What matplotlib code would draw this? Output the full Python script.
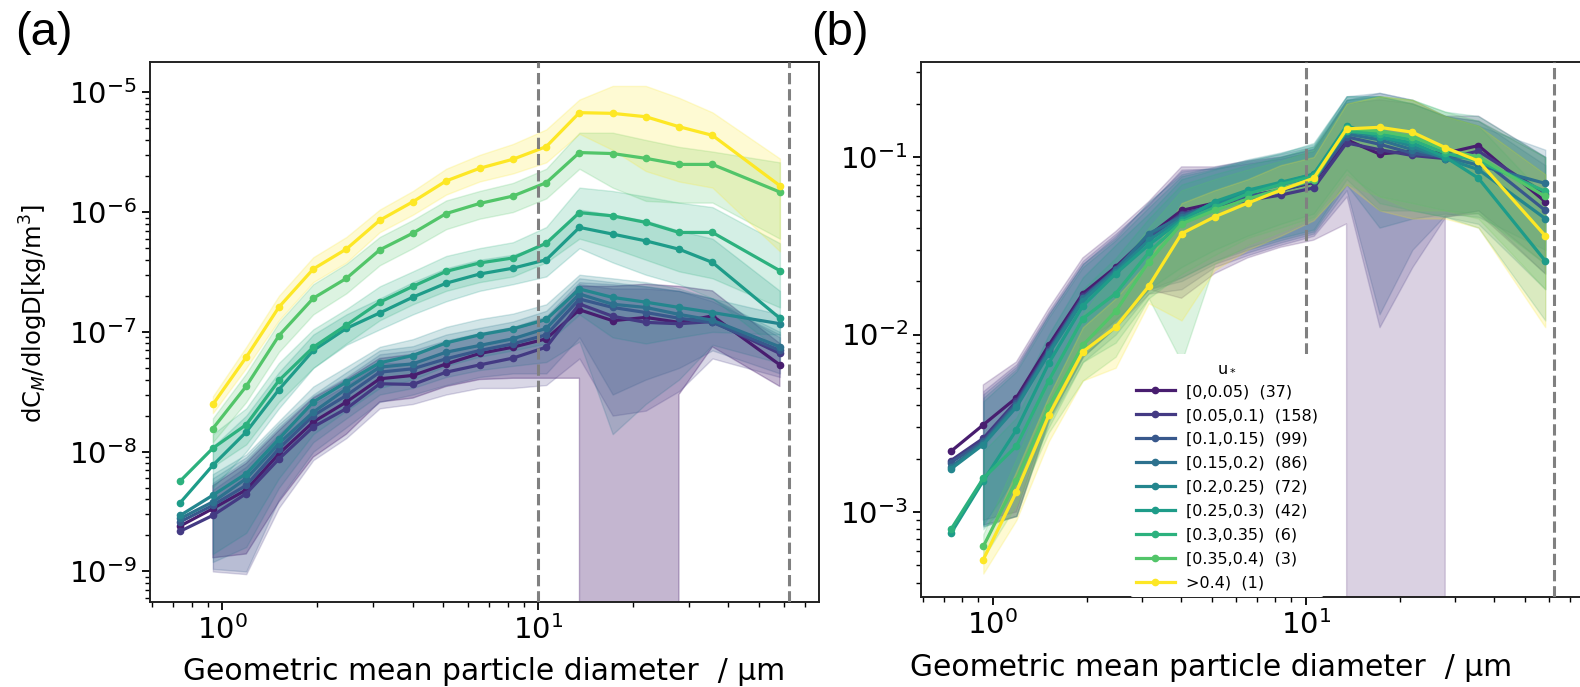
import numpy as np
import matplotlib
matplotlib.use("Agg")
import matplotlib.pyplot as plt
from matplotlib.ticker import NullFormatter

nan = np.nan

# particle diameter bins (geometric mean, um)
diam = [0.736, 0.933, 1.19, 1.51, 1.94, 2.47, 3.15, 4.01, 5.11, 6.52, 8.31, 10.6,
        13.5, 17.2, 21.9, 27.9, 35.6, 58.2]

ustar_labels = ['[0,0.05)  (37)', '[0.05,0.1)  (158)', '[0.1,0.15)  (99)', '[0.15,0.2)  (86)',
                '[0.2,0.25)  (72)', '[0.25,0.3)  (42)', '[0.3,0.35)  (6)', '[0.35,0.4)  (3)',
                '>0.4)  (1)']
cmap_pos = [0.08, 0.17, 0.27, 0.37, 0.46, 0.55, 0.64, 0.73, 1.0]

# ---- panel (a): dC_M/dlogD [kg/m3] ----
a_mean = [
    [2.4e-9, 3.35e-9, 4.8e-9, 9.6e-9, 1.77e-8, 2.6e-8, 4.06e-8, 4.33e-8, 5.4e-8, 6.6e-8, 7.45e-8, 8.75e-8, 1.53e-7, 1.24e-7, 1.32e-7, 1.2e-7, 1.36e-7, 5.3e-8],
    [2.17e-9, 2.94e-9, 4.47e-9, 8.7e-9, 1.61e-8, 2.29e-8, 3.69e-8, 3.64e-8, 4.61e-8, 5.3e-8, 6.04e-8, 7.45e-8, 1.71e-7, 1.35e-7, 1.2e-7, 1.17e-7, 1.22e-7, 6.6e-8],
    [2.6e-9, 3.57e-9, 5.24e-9, 1.06e-8, 2.0e-8, 2.95e-8, 4.61e-8, 4.92e-8, 5.96e-8, 6.99e-8, 7.94e-8, 9.44e-8, 1.88e-7, 1.6e-7, 1.45e-7, 1.3e-7, 1.2e-7, 7.0e-8],
    [2.77e-9, 3.81e-9, 5.96e-9, 1.17e-8, 2.14e-8, 3.35e-8, 5.08e-8, 5.41e-8, 6.77e-8, 7.7e-8, 8.75e-8, 1.07e-7, 2.07e-7, 1.7e-7, 1.6e-7, 1.4e-7, 1.25e-7, 7.5e-8],
    [2.94e-9, 4.33e-9, 6.56e-9, 1.28e-8, 2.6e-8, 3.81e-8, 5.52e-8, 6.35e-8, 8.1e-8, 9.44e-8, 1.06e-7, 1.27e-7, 2.28e-7, 1.94e-7, 1.77e-7, 1.6e-7, 1.45e-7, 1.17e-7],
    [3.76e-9, 7.7e-9, 1.46e-8, 3.3e-8, 7.0e-8, 1.07e-7, 1.44e-7, 1.95e-7, 2.55e-7, 3.04e-7, 3.4e-7, 4.0e-7, 7.45e-7, 6.55e-7, 5.75e-7, 4.9e-7, 3.8e-7, 1.3e-7],
    [5.7e-9, 1.07e-8, 1.68e-8, 3.93e-8, 7.45e-8, 1.14e-7, 1.77e-7, 2.4e-7, 3.2e-7, 3.76e-7, 4.14e-7, 5.5e-7, 9.9e-7, 9.3e-7, 8.2e-7, 6.76e-7, 6.76e-7, 3.24e-7],
    [nan, 1.56e-8, 3.52e-8, 9.3e-8, 1.91e-7, 2.8e-7, 4.84e-7, 6.67e-7, 9.72e-7, 1.18e-6, 1.36e-6, 1.76e-6, 3.14e-6, 3.08e-6, 2.81e-6, 2.5e-6, 2.5e-6, 1.47e-6],
    [nan, 2.48e-8, 6.15e-8, 1.61e-7, 3.35e-7, 4.92e-7, 8.55e-7, 1.22e-6, 1.82e-6, 2.32e-6, 2.76e-6, 3.52e-6, 6.76e-6, 6.67e-6, 6.25e-6, 5.16e-6, 4.37e-6, 1.66e-6],
]
a_hi = [
    [nan, 5.2e-9, 8e-9, 1.5e-8, 2.8e-8, 4.0e-8, 6.0e-8, 6.5e-8, 8.0e-8, 9.5e-8, 1.05e-7, 1.25e-7, 2.4e-7, 2.4e-7, 2.5e-7, 2.4e-7, 2.2e-7, 8e-8],
    [nan, 4.8e-9, 7.5e-9, 1.4e-8, 2.5e-8, 3.6e-8, 5.5e-8, 5.5e-8, 6.9e-8, 7.8e-8, 8.8e-8, 1.1e-7, 2.5e-7, 2.3e-7, 2.3e-7, 2.2e-7, 1.9e-7, 9e-8],
    [nan, 5.5e-9, 8.5e-9, 1.6e-8, 2.9e-8, 4.2e-8, 6.5e-8, 7.0e-8, 8.5e-8, 9.8e-8, 1.1e-7, 1.35e-7, 2.6e-7, 2.5e-7, 2.4e-7, 2.2e-7, 1.8e-7, 9.5e-8],
    [nan, 6.0e-9, 9.0e-9, 1.7e-8, 3.0e-8, 4.6e-8, 7.0e-8, 7.6e-8, 9.5e-8, 1.08e-7, 1.22e-7, 1.5e-7, 2.8e-7, 2.6e-7, 2.4e-7, 2.2e-7, 1.9e-7, 1.0e-7],
    [nan, 6.5e-9, 9.5e-9, 1.8e-8, 3.5e-8, 5.1e-8, 7.5e-8, 8.7e-8, 1.1e-7, 1.28e-7, 1.42e-7, 1.7e-7, 3.0e-7, 2.8e-7, 2.6e-7, 2.3e-7, 1.9e-7, 1.4e-7],
    [nan, 1.1e-8, 2.0e-8, 4.6e-8, 9.5e-8, 1.4e-7, 1.9e-7, 2.6e-7, 3.4e-7, 4.0e-7, 4.4e-7, 5.4e-7, 1.05e-6, 9.5e-7, 8.5e-7, 7.0e-7, 6.0e-7, 2.2e-7],
    [nan, 1.4e-8, 2.3e-8, 5.5e-8, 1.05e-7, 1.55e-7, 2.4e-7, 3.2e-7, 4.3e-7, 5.0e-7, 5.6e-7, 7.5e-7, 1.6e-6, 1.5e-6, 1.35e-6, 1.2e-6, 1.1e-6, 5.5e-7],
    [nan, 1.9e-8, 4.5e-8, 1.2e-7, 2.5e-7, 3.7e-7, 6.2e-7, 8.6e-7, 1.25e-6, 1.5e-6, 1.75e-6, 2.3e-6, 4.6e-6, 4.6e-6, 4.0e-6, 3.5e-6, 3.2e-6, 2.6e-6],
    [nan, 2.9e-8, 7.5e-8, 2.0e-7, 4.2e-7, 6.2e-7, 1.05e-6, 1.5e-6, 2.3e-6, 3.0e-6, 3.7e-6, 4.9e-6, 8.7e-6, 1.13e-5, 1.13e-5, 9.0e-6, 6.8e-6, 2.8e-6],
]
a_lo = [
    [nan, 1.3e-9, 1.4e-9, 3.8e-9, 9e-9, 1.4e-8, 2.6e-8, 2.8e-8, 3.5e-8, 4.0e-8, 4.1e-8, 4.1e-8, 4.1e-8, 0, 0, 3.0e-8, 7.5e-8, 3.5e-8],
    [nan, 1.0e-9, 9.5e-10, 3.4e-9, 8.5e-9, 1.3e-8, 2.3e-8, 2.5e-8, 3.0e-8, 3.4e-8, 3.4e-8, 3.6e-8, 6e-8, 2.0e-8, 2.2e-8, 3.2e-8, 6e-8, 4.2e-8],
    [nan, 1.05e-9, 1.0e-9, 4e-9, 1.0e-8, 1.6e-8, 2.6e-8, 3.0e-8, 3.6e-8, 4.2e-8, 4.5e-8, 4.5e-8, 9e-8, 3.0e-8, 4.0e-8, 5.0e-8, 7.0e-8, 4.5e-8],
    [nan, 1.2e-9, 1.6e-9, 5e-9, 1.2e-8, 1.9e-8, 3.0e-8, 3.4e-8, 4.2e-8, 4.8e-8, 5.2e-8, 5.6e-8, 8.3e-8, 1.4e-8, 2.5e-8, 4.0e-8, 7.8e-8, 5.5e-8],
    [nan, 1.4e-9, 2.1e-9, 6e-9, 1.4e-8, 2.2e-8, 3.4e-8, 4.0e-8, 5.2e-8, 6.2e-8, 7.0e-8, 8.0e-8, 1.4e-7, 9e-8, 8e-8, 9e-8, 1.0e-7, 9.5e-8],
    [nan, 5e-9, 1.0e-8, 2.3e-8, 5.0e-8, 7.8e-8, 1.05e-7, 1.4e-7, 1.8e-7, 2.2e-7, 2.5e-7, 2.9e-7, 5.0e-7, 3.8e-7, 3.0e-7, 2.5e-7, 1.9e-7, 7e-8],
    [nan, 7.5e-9, 1.15e-8, 2.6e-8, 5.0e-8, 8.0e-8, 1.25e-7, 1.7e-7, 2.2e-7, 2.6e-7, 2.9e-7, 3.8e-7, 6.0e-7, 5.0e-7, 4.0e-7, 3.2e-7, 2.8e-7, 1.6e-7],
    [nan, 1.2e-8, 2.6e-8, 6.8e-8, 1.4e-7, 2.1e-7, 3.6e-7, 5.0e-7, 7.2e-7, 8.8e-7, 1.0e-6, 1.3e-6, 2.3e-6, 1.6e-6, 1.24e-6, 1.2e-6, 1.2e-6, 6e-7],
    [nan, 2.1e-8, 5.0e-8, 1.25e-7, 2.6e-7, 3.8e-7, 6.8e-7, 9.5e-7, 1.4e-6, 1.8e-6, 2.1e-6, 2.6e-6, 4.5e-6, 3.3e-6, 2.2e-6, 1.8e-6, 1.6e-6, 4.7e-7],
]

# ---- panel (b): normalised distribution ----
b_mean = [
    [2.2e-3, 3.1e-3, 4.4e-3, 8.7e-3, 1.7e-2, 2.4e-2, 3.6e-2, 5.0e-2, 5.5e-2, 6.0e-2, 6.5e-2, 7.2e-2, 0.125, 0.104, 0.108, 0.105, 0.116, 0.056],
    [1.95e-3, 2.6e-3, 4.2e-3, 8.3e-3, 1.65e-2, 2.3e-2, 3.5e-2, 4.8e-2, 5.3e-2, 5.7e-2, 6.1e-2, 6.7e-2, 0.12, 0.11, 0.102, 0.098, 0.108, 0.062],
    [1.9e-3, 2.5e-3, 4.1e-3, 8.1e-3, 1.6e-2, 2.35e-2, 3.6e-2, 4.7e-2, 5.4e-2, 6.0e-2, 6.5e-2, 7.3e-2, 0.13, 0.118, 0.105, 0.1, 0.1, 0.05],
    [1.8e-3, 2.45e-3, 4.0e-3, 8.0e-3, 1.6e-2, 2.3e-2, 3.7e-2, 4.6e-2, 5.5e-2, 6.3e-2, 7.0e-2, 7.8e-2, 0.135, 0.125, 0.11, 0.1, 0.09, 0.071],
    [1.75e-3, 2.4e-3, 3.9e-3, 7.8e-3, 1.55e-2, 2.25e-2, 3.4e-2, 4.5e-2, 5.4e-2, 6.4e-2, 7.1e-2, 8.0e-2, 0.14, 0.13, 0.115, 0.098, 0.085, 0.045],
    [7.6e-4, 1.5e-3, 2.9e-3, 6.9e-3, 1.45e-2, 2.2e-2, 3.2e-2, 4.4e-2, 5.6e-2, 6.5e-2, 7.2e-2, 8.0e-2, 0.15, 0.13, 0.12, 0.1, 0.076, 0.026],
    [8.0e-4, 1.55e-3, 2.35e-3, 5.5e-3, 1.23e-2, 1.7e-2, 2.9e-2, 4.3e-2, 5.2e-2, 6.2e-2, 7.0e-2, 7.8e-2, 0.14, 0.135, 0.125, 0.105, 0.095, 0.064],
    [nan, 6.4e-4, 1.5e-3, 3.9e-3, 8.7e-3, 1.35e-2, 2.57e-2, 4.2e-2, 5.0e-2, 5.8e-2, 6.6e-2, 7.4e-2, 0.145, 0.14, 0.13, 0.11, 0.1, 0.06],
    [nan, 5.4e-4, 1.3e-3, 3.5e-3, 8.0e-3, 1.1e-2, 1.87e-2, 3.7e-2, 4.6e-2, 5.5e-2, 6.5e-2, 7.6e-2, 0.144, 0.147, 0.138, 0.113, 0.095, 0.036],
]
b_hi = [
    [nan, 5.2e-3, 7.0e-3, 1.4e-2, 2.7e-2, 3.8e-2, 5.6e-2, 8.8e-2, 8.8e-2, 9.5e-2, 0.1, 0.11, 0.2, 0.21, 0.2, 0.17, 0.17, 0.1],
    [nan, 4.8e-3, 6.8e-3, 1.35e-2, 2.6e-2, 3.7e-2, 5.4e-2, 8.5e-2, 8.6e-2, 9.2e-2, 0.098, 0.108, 0.21, 0.22, 0.2, 0.17, 0.16, 0.1],
    [nan, 4.6e-3, 6.6e-3, 1.3e-2, 2.5e-2, 3.6e-2, 5.5e-2, 8.3e-2, 8.7e-2, 9.4e-2, 0.1, 0.112, 0.21, 0.23, 0.21, 0.17, 0.16, 0.09],
    [nan, 4.4e-3, 6.4e-3, 1.3e-2, 2.5e-2, 3.5e-2, 5.6e-2, 8.0e-2, 8.8e-2, 9.6e-2, 0.104, 0.115, 0.22, 0.23, 0.21, 0.17, 0.15, 0.11],
    [nan, 4.2e-3, 6.2e-3, 1.25e-2, 2.4e-2, 3.4e-2, 5.2e-2, 7.8e-2, 8.6e-2, 9.7e-2, 0.106, 0.118, 0.22, 0.22, 0.2, 0.17, 0.15, 0.08],
    [nan, 2.3e-3, 4.2e-3, 1.0e-2, 2.1e-2, 3.2e-2, 4.8e-2, 7.5e-2, 8.5e-2, 9.5e-2, 0.105, 0.12, 0.22, 0.22, 0.2, 0.17, 0.15, 0.06],
    [nan, 2.2e-3, 3.4e-3, 8.0e-3, 1.8e-2, 2.7e-2, 4.5e-2, 7.0e-2, 8.0e-2, 9.0e-2, 0.1, 0.115, 0.21, 0.22, 0.21, 0.18, 0.17, 0.1],
    [nan, 7.5e-4, 2.0e-3, 5.5e-3, 1.3e-2, 2.3e-2, 4.0e-2, 6.5e-2, 7.5e-2, 8.5e-2, 9.5e-2, 0.11, 0.2, 0.22, 0.21, 0.18, 0.16, 0.1],
    [nan, 6.5e-4, 1.7e-3, 4.5e-3, 1.1e-2, 1.6e-2, 2.6e-2, 5.5e-2, 6.5e-2, 7.5e-2, 9.0e-2, 0.1, 0.2, 0.22, 0.21, 0.17, 0.15, 0.08],
]
b_lo = [
    [nan, 9e-4, 1.0e-3, 3.5e-3, 8e-3, 1.2e-2, 1.8e-2, 1.6e-2, 2.2e-2, 2.7e-2, 3.1e-2, 3.4e-2, 4.2e-2, 0, 0, 4.6e-2, 4.8e-2, 2.2e-2],
    [nan, 8.5e-4, 9.5e-4, 3.4e-3, 7.5e-3, 1.1e-2, 1.7e-2, 1.8e-2, 2.4e-2, 2.8e-2, 3.2e-2, 3.6e-2, 6.0e-2, 1.1e-2, 2.4e-2, 4.6e-2, 5.0e-2, 2.5e-2],
    [nan, 8.5e-4, 9.5e-4, 3.3e-3, 7.5e-3, 1.1e-2, 1.8e-2, 2.0e-2, 2.5e-2, 2.9e-2, 3.3e-2, 3.7e-2, 6.5e-2, 1.3e-2, 3.0e-2, 4.7e-2, 5.0e-2, 2.2e-2],
    [nan, 8.3e-4, 9.5e-4, 3.3e-3, 7.5e-3, 1.1e-2, 1.8e-2, 2.1e-2, 2.6e-2, 3.0e-2, 3.4e-2, 3.8e-2, 7.0e-2, 4.0e-2, 4.5e-2, 4.8e-2, 4.6e-2, 3.0e-2],
    [nan, 8.3e-4, 9.5e-4, 3.2e-3, 7.0e-3, 1.0e-2, 1.7e-2, 2.1e-2, 2.6e-2, 3.1e-2, 3.5e-2, 3.9e-2, 7.5e-2, 5.0e-2, 5.0e-2, 4.6e-2, 4.2e-2, 1.8e-2],
    [nan, 8.5e-4, 1.6e-3, 4.0e-3, 9.0e-3, 1.2e-2, 1.8e-2, 2.4e-2, 3.0e-2, 3.6e-2, 4.2e-2, 4.8e-2, 8.5e-2, 5.5e-2, 5.0e-2, 4.6e-2, 4.0e-2, 1.2e-2],
    [nan, 8.0e-4, 1.3e-3, 3.0e-3, 7.0e-3, 9.0e-3, 1.6e-2, 2.2e-2, 2.8e-2, 3.5e-2, 4.0e-2, 4.6e-2, 8.0e-2, 6.0e-2, 5.5e-2, 5.0e-2, 4.8e-2, 2.5e-2],
    [nan, 5.5e-4, 1.1e-3, 2.8e-3, 5.5e-3, 7.5e-3, 1.6e-2, 7.0e-3, 2.5e-2, 3.2e-2, 3.8e-2, 4.5e-2, 7.0e-2, 6.0e-2, 5.0e-2, 5.0e-2, 4.5e-2, 1.8e-2],
    [nan, 4.5e-4, 9.0e-4, 2.5e-3, 5.5e-3, 6.5e-3, 1.5e-2, 1.2e-2, 2.3e-2, 3.0e-2, 3.6e-2, 4.4e-2, 7.0e-2, 5.0e-2, 4.5e-2, 4.5e-2, 4.0e-2, 1.1e-2],
]

# band opacity per u* class in each panel
a_alpha = [0.32, 0.2, 0.2, 0.2, 0.2, 0.2, 0.2, 0.2, 0.2]
b_alpha = [0.2, 0.2, 0.2, 0.2, 0.2, 0.2, 0.2, 0.2, 0.2]

colors = [plt.cm.viridis(p) for p in cmap_pos]

W, H = 1580, 687
fig = plt.figure(figsize=(W / 100, H / 100), dpi=100)
axA = fig.add_axes([150 / W, 1 - 602 / H, 669 / W, 540 / H])
axB = fig.add_axes([921 / W, 1 - 597 / H, 663 / W, 535 / H])


def draw_panel(ax, means, his, los, alphas, ylim):
    for m, hi, lo, al, c, lab in zip(means, his, los, alphas, colors, ustar_labels):
        ax.fill_between(diam, lo, hi, color=c, alpha=al, linewidth=1)
        ax.plot(diam, m, color=c, lw=2.3, marker='o', ms=4.5, label=lab)
    ax.axvline(10, color='#808080', ls='--', lw=2.2, zorder=3)
    ax.axvline(62, color='#808080', ls='--', lw=2.2, zorder=3)
    ax.set_xscale('log')
    ax.set_yscale('log')
    ax.set_xlim(0.59, 77.4)
    ax.set_ylim(*ylim)
    ax.xaxis.set_minor_formatter(NullFormatter())
    ax.yaxis.set_minor_formatter(NullFormatter())
    ax.tick_params(which='major', labelsize=21, length=6, width=1.3)
    ax.tick_params(which='minor', length=3.5, width=1.0)
    for s in ax.spines.values():
        s.set_linewidth(1.4)
        s.set_color('#222222')
    ax.set_xlabel('Geometric mean particle diameter  / \u03bcm', fontsize=21.4)


draw_panel(axA, a_mean, a_hi, a_lo, a_alpha, (5.56e-10, 1.79e-5))
axA.set_ylabel('dC$_M$/dlogD[kg/m$^3$]', fontsize=17.5)
axA.yaxis.set_label_coords(-0.149, 0.535)
axA.xaxis.set_label_coords(0.5, -0.102)

draw_panel(axB, b_mean, b_hi, b_lo, b_alpha, (3.32e-4, 0.343))
axB.xaxis.set_label_coords(0.437, -0.105)
leg = axB.legend(title='u$_*$', loc='lower left', bbox_to_anchor=(0.315, 0.0),
                 borderaxespad=0, fontsize=11.5, title_fontsize=11.5, frameon=True,
                 handlelength=2.4, handletextpad=0.7, labelspacing=0.56)
leg.get_frame().set_facecolor('white')
leg.get_frame().set_edgecolor('none')
leg.get_frame().set_alpha(1)
leg.set_zorder(10)

fig.text(15 / W, 1 - 45 / H, '(a)', fontsize=34, family='Liberation Sans', ha='left', va='baseline')
fig.text(811 / W, 1 - 45 / H, '(b)', fontsize=34, family='Liberation Sans', ha='left', va='baseline')

fig.savefig('out.png', dpi=100)
